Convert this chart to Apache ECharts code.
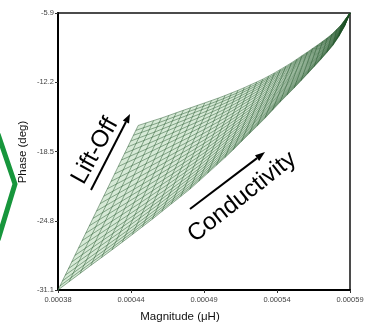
<!DOCTYPE html>
<html>
<head>
<meta charset="utf-8">
<script src="https://cdn.jsdelivr.net/npm/echarts@6/dist/echarts.min.js"></script>
<style>
  html, body { margin: 0; padding: 0; background: #fff; }
  #chart { width: 368px; height: 325px; }
</style>
</head>
<body>
<div id="chart"></div>
<script>
// Impedance-plane grid: coil magnitude vs phase, swept over conductivity and lift-off.
// Magnitudes are listed in units of 1e-6 (µH scale shown on the axis).
const MAG_UNIT = 1e-6;

// Zero lift-off edge (conductivity sweep), lower boundary of the grid
const lowerMag = [380.0, 388.0, 395.9, 403.6, 411.3, 418.8, 426.2, 433.5, 440.7, 447.8, 454.7, 461.5, 468.2, 474.8, 481.3, 487.6, 493.9, 500.0, 506.0, 511.9, 517.6, 523.3, 528.8, 534.2, 539.5, 544.7, 549.8, 554.7, 559.5, 564.2, 568.8, 573.3, 577.6, 581.9, 586.0, 590.0];
const lowerPhase = [-31.10, -30.34, -29.59, -28.86, -28.15, -27.45, -26.75, -26.05, -25.35, -24.66, -23.96, -23.27, -22.60, -21.93, -21.20, -20.48, -19.76, -19.06, -18.35, -17.60, -16.88, -16.17, -15.48, -14.75, -14.03, -13.37, -12.72, -12.07, -11.42, -10.78, -10.15, -9.50, -8.85, -8.04, -7.12, -5.90];

// Maximum lift-off edge (same conductivity steps), upper boundary of the grid
const upperMag = [437.7, 443.3, 448.8, 454.3, 459.7, 465.0, 470.2, 475.4, 480.4, 485.5, 490.4, 495.3, 500.1, 504.8, 509.4, 514.0, 518.5, 522.9, 527.3, 531.5, 535.7, 539.9, 543.9, 547.9, 551.8, 555.6, 559.4, 563.1, 566.7, 570.3, 573.7, 577.1, 580.4, 583.7, 586.9, 590.0];
const upperPhase = [-16.13, -15.90, -15.68, -15.46, -15.22, -14.98, -14.75, -14.52, -14.30, -14.08, -13.86, -13.64, -13.41, -13.17, -12.94, -12.69, -12.43, -12.18, -11.92, -11.64, -11.35, -11.04, -10.74, -10.43, -10.10, -9.77, -9.45, -9.12, -8.81, -8.48, -8.16, -7.81, -7.39, -6.97, -6.42, -5.90];

// Lift-off steps, as fractions of the way along each lift-off line
const liftOffFractions = [0, 0.025, 0.055, 0.09, 0.13, 0.17, 0.21, 0.255, 0.30, 0.345, 0.39, 0.435, 0.48, 0.525, 0.57, 0.615, 0.66, 0.705, 0.75, 0.79, 0.83, 0.87, 0.905, 0.94, 0.97, 1];

// Axis ticks
const magTicks = [0.00038, 0.0004325, 0.000485, 0.0005375, 0.00059];
const magTickLabels = ['0.00038', '0.00044', '0.00049', '0.00054', '0.00059'];
const phaseTicks = [-31.1, -24.8, -18.5, -12.2, -5.9];
const phaseTickLabels = ['-31.1', '-24.8', '-18.5', '-12.2', '-5.9'];

function node(i, f) {
  return [
    (lowerMag[i] + f * (upperMag[i] - lowerMag[i])) * MAG_UNIT,
    lowerPhase[i] + f * (upperPhase[i] - lowerPhase[i])
  ];
}

// Lift-off lines: one per conductivity step, separated by gaps
const liftOffLineData = [];
for (let i = 0; i < lowerMag.length; i++) {
  liftOffLineData.push([lowerMag[i] * MAG_UNIT, lowerPhase[i]]);
  liftOffLineData.push([upperMag[i] * MAG_UNIT, upperPhase[i]]);
  liftOffLineData.push(['-', '-']);
}
// Conductivity curves: one per lift-off step
const conductivityCurveData = [];
liftOffFractions.forEach(function (f) {
  for (let i = 0; i < lowerMag.length; i++) conductivityCurveData.push(node(i, f));
  conductivityCurveData.push(['-', '-']);
});

function labelFor(ticks, labels, v) {
  let best = 0;
  for (let k = 1; k < ticks.length; k++) {
    if (Math.abs(ticks[k] - v) < Math.abs(ticks[best] - v)) best = k;
  }
  return labels[best];
}

const meshLine = { color: 'rgba(28,80,36,0.85)', width: 0.55 };

const chart = echarts.init(document.getElementById('chart'), null, { renderer: 'canvas' });
chart.setOption({
  animation: false,
  backgroundColor: '#fff',
  grid: { left: 58, top: 13, right: 18, bottom: 35, show: true, borderColor: '#111', borderWidth: 1.5, backgroundColor: 'transparent' },
  xAxis: {
    type: 'value', min: 0.00038, max: 0.00059,
    axisLine: { show: true, lineStyle: { color: '#000', width: 2 } },
    axisTick: { show: true, length: 3, customValues: magTicks, lineStyle: { color: '#333' } },
    axisLabel: {
      customValues: magTicks, margin: 6, fontSize: 7.5, color: '#444', fontFamily: 'Liberation Sans',
      formatter: function (v) { return labelFor(magTicks, magTickLabels, v); }
    },
    splitLine: { show: false }
  },
  yAxis: {
    type: 'value', min: -31.1, max: -5.9,
    axisLine: { show: true, lineStyle: { color: '#000', width: 2 } },
    axisTick: { show: true, length: 3, customValues: phaseTicks, lineStyle: { color: '#333' } },
    axisLabel: {
      customValues: phaseTicks, margin: 4, fontSize: 7.5, color: '#444', fontFamily: 'Liberation Sans',
      formatter: function (v) { return labelFor(phaseTicks, phaseTickLabels, v); }
    },
    splitLine: { show: false }
  },
  series: [
    {
      // light green wash behind the grid lines
      type: 'custom', silent: true, z: 1,
      data: [0],
      renderItem: function (params, api) {
        const pts = [];
        for (let i = 0; i < lowerMag.length; i++) pts.push(api.coord([lowerMag[i] * MAG_UNIT, lowerPhase[i]]));
        for (let i = upperMag.length - 1; i >= 0; i--) pts.push(api.coord([upperMag[i] * MAG_UNIT, upperPhase[i]]));
        return { type: 'polygon', shape: { points: pts }, style: { fill: '#d6e9d6' } };
      }
    },
    {
      type: 'line', name: 'Lift-off lines', data: liftOffLineData, showSymbol: false, symbol: 'none',
      connectNulls: false, silent: true, z: 2, lineStyle: meshLine
    },
    {
      type: 'line', name: 'Conductivity curves', data: conductivityCurveData, showSymbol: false, symbol: 'none',
      connectNulls: false, silent: true, z: 2, lineStyle: meshLine
    }
  ],
  graphic: [
    // green chevron at the left edge
    { type: 'polyline', shape: { points: [[-2, 134], [15, 184], [-2, 240]] }, style: { stroke: '#17963c', lineWidth: 5, fill: null, lineJoin: 'miter' }, z: 10 },
    // axis titles
    { type: 'text', x: 23, y: 152, rotation: Math.PI / 2, style: { text: 'Phase (deg)', font: '11.5px "Liberation Sans"', fill: '#111', align: 'center', verticalAlign: 'middle' }, z: 10 },
    { type: 'text', x: 180, y: 317, style: { text: 'Magnitude (\u03bcH)', font: '11.5px "Liberation Sans"', fill: '#111', align: 'center', verticalAlign: 'middle' }, z: 10 },
    // Lift-Off annotation
    { type: 'text', x: 95, y: 151, rotation: 61 * Math.PI / 180, style: { text: 'Lift-Off', font: '24px "Liberation Sans"', fill: '#000', align: 'center', verticalAlign: 'middle' }, z: 10 },
    { type: 'line', shape: { x1: 91, y1: 190, x2: 125.9, y2: 122 }, style: { stroke: '#000', lineWidth: 2 }, z: 10 },
    { type: 'polygon', shape: { points: [[130, 114], [129.0, 123.6], [122.8, 120.4]] }, style: { fill: '#000' }, z: 10 },
    // Conductivity annotation
    { type: 'text', x: 242, y: 197, rotation: 38.5 * Math.PI / 180, style: { text: 'Conductivity', font: '24px "Liberation Sans"', fill: '#000', align: 'center', verticalAlign: 'middle' }, z: 10 },
    { type: 'line', shape: { x1: 190, y1: 209, x2: 257.1, y2: 158.1 }, style: { stroke: '#000', lineWidth: 2 }, z: 10 },
    { type: 'polygon', shape: { points: [[265, 152], [259.2, 160.9], [255.0, 155.3]] }, style: { fill: '#000' }, z: 10 }
  ]
});
</script>
</body>
</html>
